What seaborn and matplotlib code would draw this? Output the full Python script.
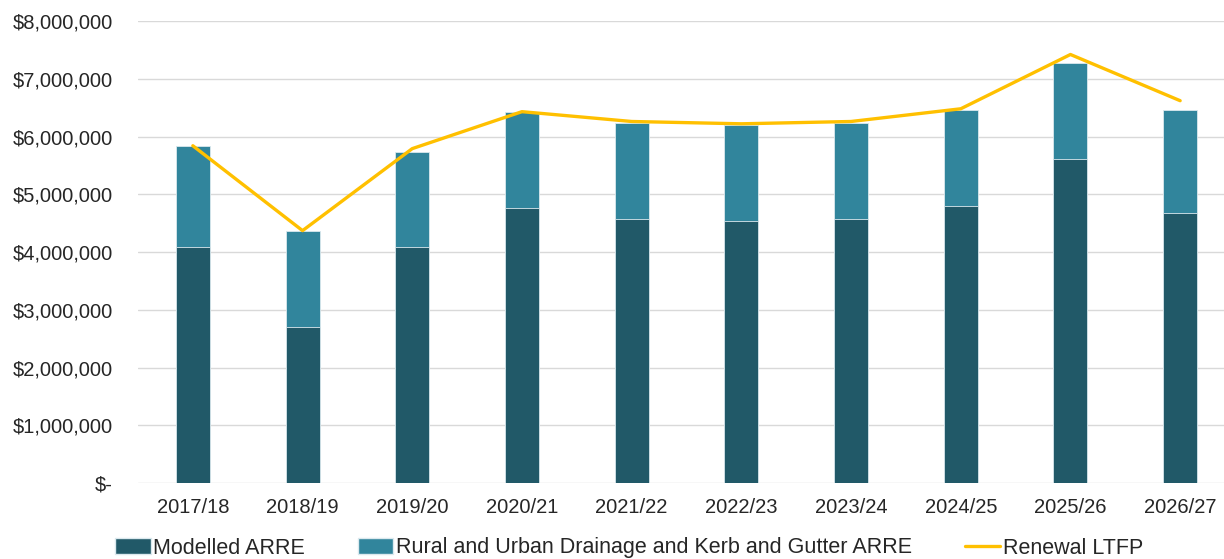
import numpy as np
import matplotlib
matplotlib.use('Agg')
import matplotlib.pyplot as plt
import seaborn as sns
from matplotlib.ticker import FuncFormatter
from matplotlib.patches import Patch
from matplotlib.lines import Line2D

# --- Data ---
years = ['2017/18', '2018/19', '2019/20', '2020/21', '2021/22',
         '2022/23', '2023/24', '2024/25', '2025/26', '2026/27']
modelled_arre = [4090000, 2700000, 4090000, 4770000, 4580000,
                 4540000, 4580000, 4800000, 5610000, 4680000]
drainage_arre = [1750000, 1670000, 1650000, 1660000, 1660000,
                 1660000, 1660000, 1660000, 1670000, 1780000]
renewal_ltfp = [5840000, 4370000, 5790000, 6430000, 6260000,
                6220000, 6260000, 6480000, 7420000, 6620000]

dark_teal = '#215968'
light_teal = '#31859C'
yellow = '#FFC000'

sns.set_style('white')
plt.rcParams['font.family'] = ['Liberation Sans', 'DejaVu Sans']

total = np.array(modelled_arre) + np.array(drainage_arre)

fig = plt.figure(figsize=(12.24, 5.59), dpi=100)
ax = fig.add_axes([138 / 1224, 76 / 559, 1097 / 1224, 462 / 559])

# stacked bars: draw the total first, then the bottom segment over it
sns.barplot(x=years, y=total, color=light_teal, width=0.31, saturation=1,
            edgecolor='#dbe9ee', linewidth=0.6, ax=ax, zorder=2)
sns.barplot(x=years, y=modelled_arre, color=dark_teal, width=0.31, saturation=1,
            edgecolor='#dbe9ee', linewidth=0.6, ax=ax, zorder=3)
sns.lineplot(x=np.arange(len(years)), y=renewal_ltfp, color=yellow,
             linewidth=2.4, ax=ax, zorder=4)

ax.set_xlim(-0.5, len(years) - 0.5)
ax.set_ylim(0, 8000000)
ax.set_yticks(np.arange(0, 8000001, 1000000))


def money(v, pos):
    if v == 0:
        return '$-'
    return '${:,.0f}'.format(v)


ax.yaxis.set_major_formatter(FuncFormatter(money))
ax.grid(axis='y', color='#D9D9D9', linewidth=1.0, zorder=0)
ax.set_axisbelow(True)
for s in ax.spines.values():
    s.set_visible(False)
ax.tick_params(axis='both', length=0, labelsize=14.5, colors='#262626')
ax.tick_params(axis='y', pad=18)
ax.tick_params(axis='x', pad=11)
ax.set_xlabel('')
ax.set_ylabel('')

handles = [Patch(facecolor=dark_teal, edgecolor='#dbe9ee', label='Modelled ARRE'),
           Patch(facecolor=light_teal, edgecolor='#dbe9ee',
                 label='Rural and Urban Drainage and Kerb and Gutter ARRE'),
           Line2D([0], [0], color=yellow, linewidth=2.4, label='Renewal LTFP')]
fig.legend(handles=handles, loc='center', bbox_to_anchor=(629 / 1224, 11 / 559),
           ncol=3, frameon=False, fontsize=15.5, handlelength=1.65,
           handleheight=0.7, handletextpad=0.12, columnspacing=2.45,
           labelcolor='#262626')

fig.savefig('out.png', dpi=100)
